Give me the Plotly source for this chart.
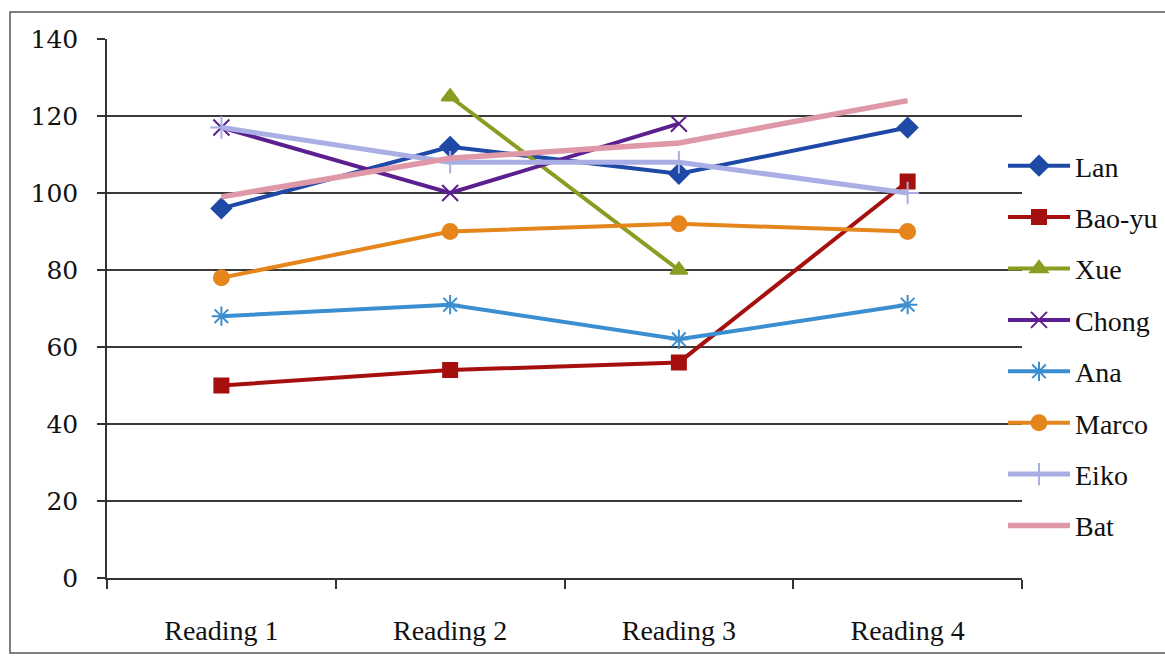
import plotly.graph_objects as go

readings = ["Reading 1", "Reading 2", "Reading 3", "Reading 4"]

lan = [96, 112, 105, 117]
bao_yu = [50, 54, 56, 103]
xue = [None, 125, 80, None]
chong = [117, 100, 118, None]
ana = [68, 71, 62, 71]
marco = [78, 90, 92, 90]
eiko = [117, 108, 108, 100]
bat = [99, 109, 113, 124]

y_ticks = [0, 20, 40, 60, 80, 100, 120, 140]

series = [
    ("Lan", lan, "#1f49a6", "diamond", 15, 4),
    ("Bao-yu", bao_yu, "#a5100f", "square", 14, 4),
    ("Xue", xue, "#8b9c22", "triangle-up", 15, 4),
    ("Chong", chong, "#5b1f8f", "x-thin-open", 16, 4),
    ("Ana", ana, "#3b8ed0", "asterisk-open", 16, 4),
    ("Marco", marco, "#e5861c", "circle", 15, 4),
    ("Eiko", eiko, "#a9afe5", "cross-thin-open", 16, 5),
    ("Bat", bat, "#de98a8", None, 0, 5.5),
]

FONT = "Liberation Serif, Times New Roman, serif"
NUM_FONT = "DejaVu Serif, serif"
FSIZE = 28

fig = go.Figure()
for name, vals, color, symbol, size, width in series:
    if symbol is None:
        mode = "lines"
        marker = None
    else:
        mode = "lines+markers"
        marker = dict(symbol=symbol, size=size, color=color,
                      line=dict(color=color, width=2))
    fig.add_trace(go.Scatter(
        x=readings, y=vals, name=name, mode=mode,
        line=dict(color=color, width=width),
        marker=marker, connectgaps=False,
        legendgroup=name,
    ))

W, H = 1165, 657
L, R, T, B = 107, 143, 39, 79
pw, ph = W - L - R, H - T - B

def px_x(p):
    return (p - L) / pw

def px_y(p):
    return (H - B - p) / ph

fig.update_layout(
    width=W, height=H,
    margin=dict(l=L, r=R, t=T, b=B, autoexpand=False),
    paper_bgcolor="white", plot_bgcolor="white",
    font=dict(family=FONT, size=FSIZE, color="#111111"),
    showlegend=True,
    legend=dict(
        x=px_x(1003), y=px_y(141), xanchor="left", yanchor="top",
        font=dict(family=FONT, size=FSIZE, color="#111111"),
        tracegroupgap=12, itemwidth=62, bgcolor="rgba(0,0,0,0)",
    ),
    xaxis=dict(
        type="category", categoryorder="array", categoryarray=readings,
        range=[-0.5, 3.5], showgrid=False, zeroline=False,
        showline=True, linecolor="#333333", linewidth=2,
        ticks="outside", tickson="boundaries", ticklen=9,
        tickcolor="#333333", tickwidth=1.5,
        ticklabelstandoff=26,
        tickfont=dict(family=FONT, size=FSIZE, color="#111111"),
    ),
    yaxis=dict(
        range=[0, 140], tickvals=y_ticks, showgrid=True,
        gridcolor="#3a3a3a", gridwidth=1.5, zeroline=False,
        showline=True, linecolor="#333333", linewidth=1.5,
        ticks="outside", ticklen=8, tickcolor="#333333", tickwidth=1.5,
        ticklabelstandoff=14,
        tickfont=dict(family=NUM_FONT, size=25, color="#111111"),
    ),
    shapes=[
        dict(type="rect", xref="paper", yref="paper",
             x0=px_x(10), x1=px_x(1175), y0=px_y(653), y1=px_y(12),
             line=dict(color="#555555", width=1.5), layer="below"),
    ],
)

fig.write_html("out.html")
